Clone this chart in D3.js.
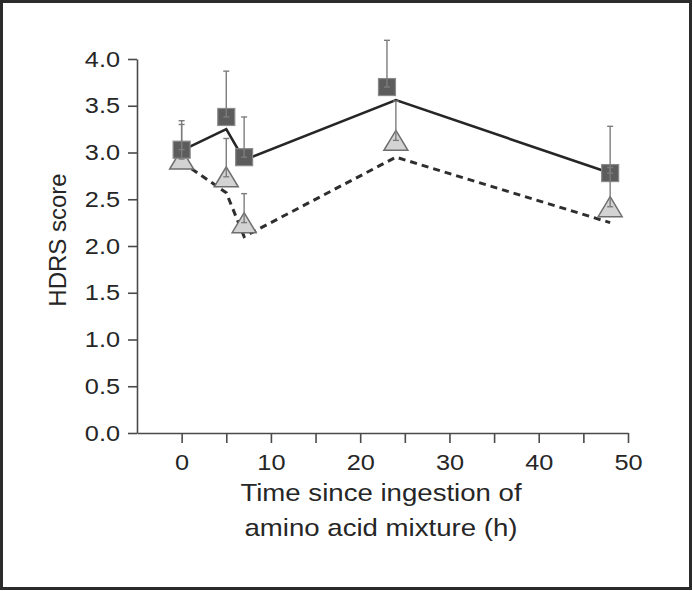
<!DOCTYPE html>
<html>
<head>
<meta charset="utf-8">
<script src="https://cdn.jsdelivr.net/npm/d3@7"></script>
<style>
  html, body { margin: 0; padding: 0; background: #fff; }
  svg text { font-family: "Liberation Sans", Arial, Helvetica, sans-serif; fill: #262626; }
</style>
</head>
<body>
<svg id="chart" width="692" height="591"></svg>
<script>
// time points (h) and HDRS values
const timesSquare = [0, 5, 7, 23, 48];
const meanSquare = [3.03, 3.38, 2.95, 3.70, 2.78];
const sdSquare = [0.31, 0.49, 0.43, 0.50, 0.50];

const timesTriangle = [0, 5, 7, 24, 48];
const meanTriangle = [2.93, 2.74, 2.25, 3.13, 2.42];
const sdTriangle = [0.37, 0.41, 0.31, 0.42, 0.42];

const fitTimes = [0, 5, 7, 24, 48];
const fitSolid = [3.02, 3.25, 2.92, 3.56, 2.78];
const fitDashed = [2.90, 2.57, 2.10, 2.95, 2.25];

const yTicks = [0, 0.5, 1, 1.5, 2, 2.5, 3, 3.5, 4];
const xTicks = [0, 5, 10, 15, 20, 25, 30, 35, 40, 45, 50];

const svg = d3.select("#chart");
const stretch = 1.15; // the original type is a bit wide

// frame round the figure
svg.append("rect")
  .attr("x", 1.5).attr("y", 1.5)
  .attr("width", 689).attr("height", 587)
  .attr("fill", "none")
  .attr("stroke", "#2b2b2b")
  .attr("stroke-width", 3);

const x = d3.scaleLinear().domain([-5, 50]).range([137, 628]);
const y = d3.scaleLinear().domain([0, 4]).range([433, 59]);

// y axis
const yAxis = svg.append("g")
  .attr("transform", `translate(${x(-5)},0)`)
  .call(d3.axisLeft(y).tickValues(yTicks).tickFormat(d3.format(".1f"))
    .tickSize(9).tickSizeOuter(0).tickPadding(8));

// x axis
const xAxis = svg.append("g")
  .attr("transform", `translate(0,${y(0)})`)
  .call(d3.axisBottom(x).tickValues(xTicks)
    .tickFormat(d => d % 10 === 0 ? d : "")
    .tickSize(10).tickSizeOuter(0).tickPadding(11));

svg.selectAll(".domain, .tick line")
  .attr("stroke", "#4a4a4a")
  .attr("stroke-width", 1.6);

svg.selectAll(".tick text")
  .style("font-size", "22px")
  .style("font-family", "'Liberation Sans', Arial, sans-serif")
  .attr("fill", "#262626");

yAxis.selectAll(".tick text")
  .attr("x", -17 / stretch)
  .attr("transform", `scale(${stretch},1)`);
xAxis.selectAll(".tick text")
  .attr("transform", `scale(${stretch},1)`);

// axis titles
svg.append("text")
  .attr("transform", "translate(66,240) rotate(-90)")
  .attr("text-anchor", "middle")
  .style("font-size", "24px")
  .text("HDRS score");

const titleLines = ["Time since ingestion of", "amino acid mixture (h)"];
svg.selectAll(".xtitle")
  .data(titleLines).enter()
  .append("text")
  .attr("class", "xtitle")
  .attr("transform", (d, i) => `translate(381,${501 + i * 35}) scale(${stretch},1)`)
  .attr("text-anchor", "middle")
  .style("font-size", "24px")
  .text(d => d);

// lines
const line = d3.line().x(d => x(d[0])).y(d => y(d[1]));

svg.append("path")
  .datum(fitTimes.map((t, i) => [t, fitDashed[i]]))
  .attr("d", line)
  .attr("fill", "none")
  .attr("stroke", "#2e2e2e")
  .attr("stroke-width", 3)
  .attr("stroke-dasharray", "7,5");

svg.append("path")
  .datum(fitTimes.map((t, i) => [t, fitSolid[i]]))
  .attr("d", line)
  .attr("fill", "none")
  .attr("stroke", "#262626")
  .attr("stroke-width", 2.6);

// markers
const triangles = timesTriangle.map((t, i) => ({ t: t, m: meanTriangle[i], sd: sdTriangle[i] }));
const squares = timesSquare.map((t, i) => ({ t: t, m: meanSquare[i], sd: sdSquare[i] }));

svg.selectAll(".tri")
  .data(triangles).enter()
  .append("path")
  .attr("class", "tri")
  .attr("d", "M0,-10L12,10L-12,10Z")
  .attr("transform", d => `translate(${x(d.t)},${y(d.m)})`)
  .attr("fill", "#d3d3d3")
  .attr("stroke", "#6e6e6e")
  .attr("stroke-width", 1.5);

svg.selectAll(".sq")
  .data(squares).enter()
  .append("rect")
  .attr("class", "sq")
  .attr("x", d => x(d.t) - 8.5)
  .attr("y", d => y(d.m) - 8.5)
  .attr("width", 17)
  .attr("height", 17)
  .attr("fill", "#5c5c5c")
  .attr("stroke", "#8a8a8a")
  .attr("stroke-width", 1.2);

// error bars (upper half only, drawn over the markers)
function errorBars(data, cls) {
  const g = svg.selectAll("." + cls)
    .data(data).enter()
    .append("g")
    .attr("class", cls)
    .attr("stroke", "#7c7c7c")
    .attr("stroke-width", 1.4);
  g.append("line")
    .attr("x1", d => x(d.t)).attr("x2", d => x(d.t))
    .attr("y1", d => y(d.m)).attr("y2", d => y(d.m + d.sd));
  g.append("line")
    .attr("x1", d => x(d.t) - 3).attr("x2", d => x(d.t) + 3)
    .attr("y1", d => y(d.m + d.sd)).attr("y2", d => y(d.m + d.sd));
  g.append("line")
    .attr("x1", d => x(d.t) - 3).attr("x2", d => x(d.t) + 3)
    .attr("y1", d => y(d.m)).attr("y2", d => y(d.m));
}
errorBars(triangles, "errTri");
errorBars(squares, "errSq");
</script>
</body>
</html>
